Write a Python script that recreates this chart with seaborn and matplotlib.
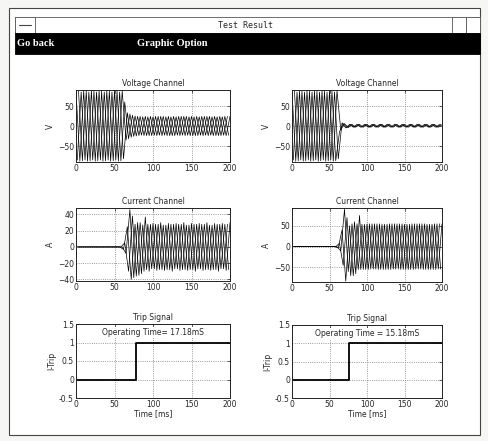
import numpy as np
import pandas as pd
import matplotlib
matplotlib.use("Agg")
import matplotlib.pyplot as plt
import seaborn as sns
from matplotlib.patches import Rectangle

# Sample instants (ms) of the three phase traces, one per half-wave peak
t_a = [0, 5, 10, 15, 20, 25, 30, 35, 40, 45, 50, 55, 60, 65, 70, 75, 80, 85, 90, 95, 100,
       105, 110, 115, 120, 125, 130, 135, 140, 145, 150, 155, 160, 165, 170, 175, 180, 185, 190, 195, 200]
t_b = [1.7, 6.7, 11.7, 16.7, 21.7, 26.7, 31.7, 36.7, 41.7, 46.7, 51.7, 56.7, 61.7, 66.7, 71.7,
       76.7, 81.7, 86.7, 91.7, 96.7, 101.7, 106.7, 111.7, 116.7, 121.7, 126.7, 131.7, 136.7,
       141.7, 146.7, 151.7, 156.7, 161.7, 166.7, 171.7, 176.7, 181.7, 186.7, 191.7, 196.7]
t_c = [3.3, 8.3, 13.3, 18.3, 23.3, 28.3, 33.3, 38.3, 43.3, 48.3, 53.3, 58.3, 63.3, 68.3, 73.3,
       78.3, 83.3, 88.3, 93.3, 98.3, 103.3, 108.3, 113.3, 118.3, 123.3, 128.3, 133.3, 138.3,
       143.3, 148.3, 153.3, 158.3, 163.3, 168.3, 173.3, 178.3, 183.3, 188.3, 193.3, 198.3]

# Voltage channel, left test (V)
volt_l_a = [88, -88, 88, -88, 88, -88, 88, -88, 88, -88, 88, -88, 88,
            -35, 30, -26, 24, -23, 24, -24, 23, -24, 24, -23, 24, -24, 23, -24, 24,
            -23, 24, -24, 23, -24, 24, -23, 24, -24, 23, -24, 24]
volt_l_b = [-85, 85, -85, 85, -85, 85, -85, 85, -85, 85, -85, 85, -82,
            33, -28, 25, -24, 23, -24, 24, -23, 24, -24, 23, -24, 24, -23, 24,
            -24, 23, -24, 24, -23, 24, -24, 23, -24, 24, -23, 24]
volt_l_c = [87, -87, 87, -87, 87, -87, 87, -87, 87, -87, 87, -87, 60,
            -32, 27, -25, 24, -24, 23, -24, 24, -23, 24, -24, 23, -24, 24, -23,
            24, -24, 23, -24, 24, -23, 24, -24, 23, -24, 24, -23]

# Voltage channel, right test (V)
volt_r_a = [88, -88, 88, -88, 88, -88, 88, -88, 88, -88, 88, -88, 88,
            -10, 6, -4, 4, -3, 4, -3, 4, -3, 4, -3, 4, -3, 4, -3, 4,
            -3, 4, -3, 4, -3, 4, -3, 4, -3, 4, -3, 3]
volt_r_b = [-85, 85, -85, 85, -85, 85, -85, 85, -85, 85, -85, 85, -82,
            8, -5, 4, -3, 4, -3, 4, -3, 4, -3, 4, -3, 4, -3, 4,
            -3, 4, -3, 4, -3, 4, -3, 4, -3, 4, -3, 4]
volt_r_c = [87, -87, 87, -87, 87, -87, 87, -87, 87, -87, 87, -87, -15,
            6, -4, 4, -3, 4, -3, 4, -3, 4, -3, 4, -3, 4, -3, 4,
            -3, 4, -3, 4, -3, 4, -3, 4, -3, 4, -3, 4]

# Current channel, left test (A)
curr_l_a = [0, 0, 0, 0, 0, 0, 0, 0, 0, 0, 0, 0, 0,
            -8, 46, -38, 30, -33, 37, -30, 29, -29, 30, -29, 29, -30, 29, -29, 30,
            -29, 29, -30, 29, -29, 30, -29, 29, -30, 29, -29, 30]
curr_l_b = [0, 0, 0, 0, 0, 0, 0, 0, 0, 0, 0, 0, -3,
            25, -40, 28, -35, 27, -28, 28, -27, 28, -28, 27, -28, 28, -27, 28,
            -28, 27, -28, 28, -27, 28, -28, 27, -28, 28, -27, 28]
curr_l_c = [0, 0, 0, 0, 0, 0, 0, 0, 0, 0, 0, 0, 5,
            -30, 38, -36, 30, -30, 28, -27, 28, -28, 27, -28, 28, -27, 28, -28,
            27, -28, 28, -27, 28, -28, 27, -28, 28, -27, 28, -28]

# Current channel, right test (A)
curr_r_a = [0, 0, 0, 0, 0, 0, 0, 0, 0, 0, 0, 0, 0,
            -10, 90, -60, 55, -65, 75, -55, 55, -54, 55, -55, 54, -55, 55, -54, 55,
            -55, 54, -55, 55, -54, 55, -55, 54, -55, 55, -54, 55]
curr_r_b = [0, 0, 0, 0, 0, 0, 0, 0, 0, 0, 0, 0, -3,
            40, -83, 50, -70, 55, -55, 54, -55, 55, -54, 55, -55, 54, -55, 55,
            -54, 55, -55, 54, -55, 55, -54, 55, -55, 54, -55, 55]
curr_r_c = [0, 0, 0, 0, 0, 0, 0, 0, 0, 0, 0, 0, 8,
            -45, 70, -70, 60, -55, 54, -55, 55, -54, 55, -55, 54, -55, 55, -54,
            55, -55, 54, -55, 55, -54, 55, -55, 54, -55, 55, -54]

# Trip signals
trip_t_l = [0, 78, 200]
trip_t_r = [0, 76, 200]
trip_v = [0, 1, 1]
op_time_l = "Operating Time= 17.18mS"
op_time_r = "Operating Time = 15.18mS"

x_ticks = [0, 50, 100, 150, 200]


def phase_frame(va, vb, vc):
    return pd.concat([
        pd.DataFrame({"t": t_a, "v": va, "phase": "a"}),
        pd.DataFrame({"t": t_b, "v": vb, "phase": "b"}),
        pd.DataFrame({"t": t_c, "v": vc, "phase": "c"}),
    ], ignore_index=True)


def style_axes(ax, title, ylabel, yticks, ylim, xlabel=None):
    ax.set_xlim(0, 200)
    ax.set_ylim(*ylim)
    ax.set_xticks(x_ticks)
    ax.set_yticks(yticks)
    ax.set_title(title, fontsize=5.5, pad=3)
    ax.set_ylabel(ylabel, fontsize=5.5, labelpad=2)
    ax.set_xlabel(xlabel if xlabel else "", fontsize=5.5, labelpad=0)
    ax.tick_params(direction="in", length=2, width=0.5, labelsize=5.5, pad=1.5,
                   top=True, right=True)
    ax.grid(True, linestyle=":", color="#777777", linewidth=0.6)
    for sp in ax.spines.values():
        sp.set_visible(True)
        sp.set_linewidth(0.7)
        sp.set_color("#222222")
    if ax.get_legend():
        ax.get_legend().remove()


def draw_wave(ax, frame):
    sns.lineplot(data=frame, x="t", y="v", units="phase", estimator=None, sort=False,
                 color="black", linewidth=0.5, ax=ax, legend=False)


def draw_trip(ax, t, label):
    sns.lineplot(x=t, y=trip_v, drawstyle="steps-post", color="black", linewidth=1.3,
                 ax=ax, estimator=None)
    ax.text(100, 1.27, label, ha="center", va="center", fontsize=5.5,
            bbox=dict(facecolor="white", edgecolor="none", pad=0.5))


sns.set_theme(style="white")
plt.rcParams["font.family"] = ["DejaVu Sans"]

W, H = 488, 441
fig = plt.figure(figsize=(W / 100, H / 100), dpi=100)
fig.patch.set_facecolor("#f6f6f4")


def px(x, y, w, h):
    return [x / W, 1 - (y + h) / H, w / W, h / H]


def box(x, y, w, h, fc, ec, lw=0.6):
    fig.patches.append(Rectangle((x / W, 1 - (y + h) / H), w / W, h / H, transform=fig.transFigure,
                                 facecolor=fc, edgecolor=ec, linewidth=lw, zorder=-5))


# window chrome
box(9, 8, 471, 427, "white", "#444444", 0.8)
box(15, 17, 465, 16, "white", "#555555")
box(15, 17, 20, 16, "white", "#555555")
box(452, 17, 14, 16, "white", "#555555")
box(466, 17, 14, 16, "white", "#555555")
box(15, 33, 465, 21, "black", "black")
fig.lines.append(plt.Line2D([19 / W, 31 / W], [1 - 25 / H, 1 - 25 / H], transform=fig.transFigure,
                            color="#444444", linewidth=0.8))
fig.text(245 / W, 1 - 25 / H, "Test Result", ha="center", va="center", fontsize=6,
         family="DejaVu Sans Mono")
fig.text(17 / W, 1 - 44 / H, "Go back", ha="left", va="center", fontsize=7.5,
         color="white", weight="bold", family="Liberation Serif")
fig.text(137 / W, 1 - 44 / H, "Graphic Option", ha="left", va="center", fontsize=7.5,
         color="white", weight="bold", family="Liberation Serif")

left_x, left_w = 76, 154
right_x, right_w = 292, 150

ax1 = fig.add_axes(px(left_x, 90, left_w, 72))
ax2 = fig.add_axes(px(right_x, 90, right_w, 72))
ax3 = fig.add_axes(px(left_x, 208, left_w, 73))
ax4 = fig.add_axes(px(right_x, 208, right_w, 74))
ax5 = fig.add_axes(px(left_x, 324, left_w, 74))
ax6 = fig.add_axes(px(right_x, 325, right_w, 73))

draw_wave(ax1, phase_frame(volt_l_a, volt_l_b, volt_l_c))
draw_wave(ax2, phase_frame(volt_r_a, volt_r_b, volt_r_c))
draw_wave(ax3, phase_frame(curr_l_a, curr_l_b, curr_l_c))
draw_wave(ax4, phase_frame(curr_r_a, curr_r_b, curr_r_c))
draw_trip(ax5, trip_t_l, op_time_l)
draw_trip(ax6, trip_t_r, op_time_r)

style_axes(ax1, "Voltage Channel", "V", [-50, 0, 50], (-90, 90))
style_axes(ax2, "Voltage Channel", "V", [-50, 0, 50], (-90, 90))
style_axes(ax3, "Current Channel", "A", [-40, -20, 0, 20, 40], (-42, 48))
style_axes(ax4, "Current Channel", "A", [-50, 0, 50], (-85, 93))
for ax in (ax5, ax6):
    style_axes(ax, "Trip Signal", "I-Trip", [-0.5, 0, 0.5, 1, 1.5], (-0.5, 1.5), xlabel="Time [ms]")
    ax.set_yticklabels(["-0.5", "0", "0.5", "1", "1.5"])

fig.savefig("out.png", dpi=100, facecolor=fig.get_facecolor())
